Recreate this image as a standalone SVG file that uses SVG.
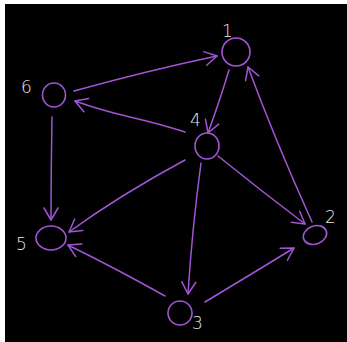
<svg xmlns="http://www.w3.org/2000/svg" width="347" height="342" viewBox="0 0 347 342">
<style>
.node{fill:none;stroke:#a155d6;stroke-width:1.6}
.edge{fill:none;stroke:#a155d6;stroke-width:1.5;stroke-linecap:round;marker-end:url(#arr)}
.lbl{font-family:"DejaVu Sans",sans-serif;font-size:17px;fill:#e6e6e6;font-weight:300}
</style>
<defs>
<marker id="arr" markerUnits="userSpaceOnUse" markerWidth="26" markerHeight="26" refX="13" refY="13" orient="auto" viewBox="0 0 26 26">
<path d="M1,6 L13,13 L1,20" fill="none" stroke="#a155d6" stroke-width="1.5" stroke-linecap="round" stroke-linejoin="round"/>
</marker>
</defs>
<rect x="0" y="0" width="347" height="342" fill="#ffffff"/>
<rect x="5" y="4" width="342" height="338" fill="#000000"/>
<g id="connectors">
<path class="edge" d="M74,91 Q150,70 217,56"/>
<path class="edge" d="M229,70 Q220,100 208,133"/>
<path class="edge" d="M312,222 Q275,140 248,67"/>
<path class="edge" d="M185,132 Q160,124 130,117 Q100,110 75,101"/>
<path class="edge" d="M52,117 Q51,170 51,220"/>
<path class="edge" d="M185,160 Q120,195 69,232"/>
<path class="edge" d="M201,163 Q192,230 188,294"/>
<path class="edge" d="M218,156 Q260,190 305,224"/>
<path class="edge" d="M165,296 Q115,268 68,245"/>
<path class="edge" d="M205,302 Q250,275 294,248"/>
</g>
<g id="node1"><ellipse class="node" cx="236" cy="52" rx="14" ry="14"/><text class="lbl" x="222" y="37">1</text></g>
<g id="node2"><ellipse class="node" cx="315" cy="235" rx="12" ry="9" transform="rotate(-20 315 235)"/><text class="lbl" x="325" y="223">2</text></g>
<g id="node3"><ellipse class="node" cx="180" cy="313" rx="12" ry="12"/><text class="lbl" x="192" y="329">3</text></g>
<g id="node4"><ellipse class="node" cx="207" cy="146" rx="12" ry="13"/><text class="lbl" x="190" y="126">4</text></g>
<g id="node5"><ellipse class="node" cx="51" cy="238" rx="15" ry="12"/><text class="lbl" x="16" y="250">5</text></g>
<g id="node6"><ellipse class="node" cx="54" cy="95" rx="11.5" ry="12"/><text class="lbl" x="21" y="93">6</text></g>
</svg>
